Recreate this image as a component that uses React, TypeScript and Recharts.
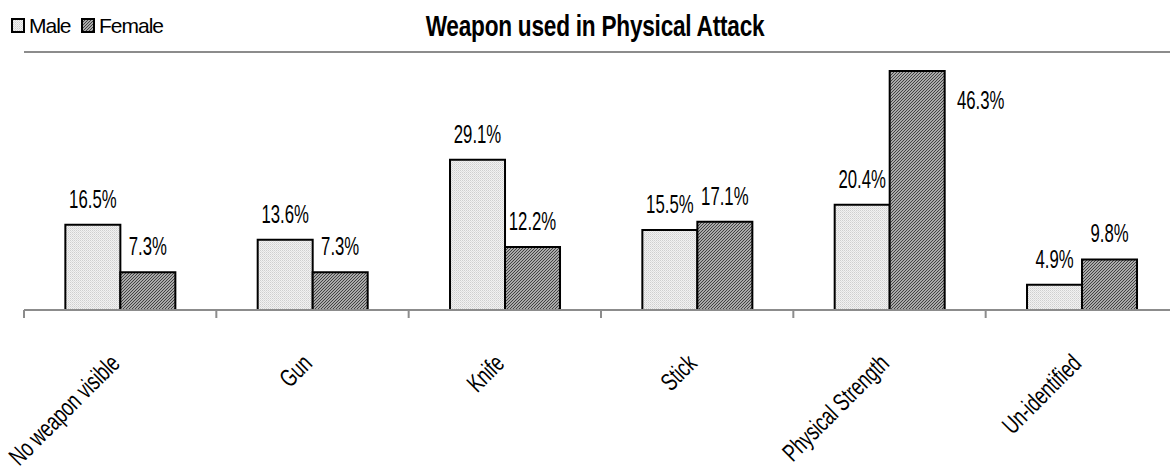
import React from 'react';
import { BarChart, Bar, XAxis, YAxis, ReferenceLine, Legend, LabelList } from 'recharts';

const categories = ['No weapon visible', 'Gun', 'Knife', 'Stick', 'Physical Strength', 'Un-identified'];
const maleValues = [16.5, 13.6, 29.1, 15.5, 20.4, 4.9];
const femaleValues = [7.3, 7.3, 12.2, 17.1, 46.3, 9.8];
const yDomain = [0, 50];

const data = categories.map((name, i) => ({
    name,
    Male: maleValues[i],
    Female: femaleValues[i]
}));

const FONT = '"Liberation Sans", Arial, sans-serif';
const SQUISH = 0.67;
const MARGIN = { top: 52, right: 2, bottom: 0, left: 24 };
const AXIS_GRAY = '#8c8c8c';

function BarValueLabel(props: any) {
    const x = Number(props.x);
    const y = Number(props.y);
    const width = Number(props.width);
    const value = Number(props.value);
    let tx = x + width / 2;
    let ty = y - 17;
    // no room above the tallest bar: put the label beside it
    if (ty - 18 < MARGIN.top) {
        tx = x + width + 36;
        ty = y + 38;
    }
    return (
        <text
            x={tx / SQUISH}
            y={ty}
            transform={`scale(${SQUISH},1)`}
            textAnchor="middle"
            fontSize={25}
            fontFamily={FONT}
            fill="#000"
        >
            {value.toFixed(1)}%
        </text>
    );
}

function CategoryTick(props: any) {
    const { x, y, payload, index } = props;
    const half = payload && payload.offset ? payload.offset : 96;
    return (
        <g>
            <line x1={x - half} y1={y} x2={x - half} y2={y + 8} stroke={AXIS_GRAY} strokeWidth={2} />
            {index === categories.length - 1 && (
                <line x1={x + half} y1={y} x2={x + half} y2={y + 8} stroke={AXIS_GRAY} strokeWidth={2} />
            )}
            <g transform={`translate(${x + 1},${y + 55}) rotate(-45)`}>
                <text
                    x={0}
                    y={0}
                    transform="scale(0.71,1)"
                    textAnchor="end"
                    fontSize={25}
                    fontFamily={FONT}
                    fill="#000"
                >
                    {payload.value}
                </text>
            </g>
        </g>
    );
}

function LegendBoxes() {
    const items = [
        { label: 'Male', fill: 'url(#maleFill)', left: 11 },
        { label: 'Female', fill: 'url(#femaleFill)', left: 81 }
    ];
    return (
        <div style={{ position: 'relative', width: 180, height: 24 }}>
            {items.map(item => (
                <div
                    key={item.label}
                    style={{ position: 'absolute', left: item.left, top: 0, display: 'flex', alignItems: 'center' }}
                >
                    <svg width={15} height={16} style={{ display: 'block' }}>
                        <rect x={1} y={1} width={12} height={13} fill={item.fill} stroke="#000" strokeWidth={2} />
                    </svg>
                    <span
                        style={{
                            fontFamily: FONT,
                            fontSize: 21,
                            letterSpacing: -1,
                            color: '#000',
                            marginLeft: 3,
                            lineHeight: '24px'
                        }}
                    >
                        {item.label}
                    </span>
                </div>
            ))}
        </div>
    );
}

export default function App() {
    return (
        <div
            style={{
                position: 'fixed',
                left: 0,
                top: 0,
                width: 1170,
                height: 470,
                overflow: 'hidden',
                background: '#fff'
            }}
        >
            <div
                style={{
                    position: 'absolute',
                    left: 595,
                    top: 12,
                    transform: 'translateX(-50%) scaleX(0.78)',
                    whiteSpace: 'nowrap',
                    fontFamily: FONT,
                    fontWeight: 'bold',
                    fontSize: 29,
                    lineHeight: '29px',
                    letterSpacing: -0.3,
                    color: '#000'
                }}
            >
                Weapon used in Physical Attack
            </div>
            <BarChart
                width={1180}
                height={470}
                data={data}
                margin={MARGIN}
                barCategoryGap="21.5%"
                barGap={0}
            >
                <defs>
                    <pattern id="maleFill" patternUnits="userSpaceOnUse" width={2} height={2}>
                        <rect width={2} height={2} fill="#f2f2f2" />
                        <rect width={1} height={1} fill="#cfcfcf" />
                        <rect x={1} y={1} width={1} height={1} fill="#dedede" />
                    </pattern>
                    <pattern id="femaleFill" patternUnits="userSpaceOnUse" width={3} height={3}>
                        <rect width={3} height={3} fill="#d6d6d6" />
                        <path d="M0,3 L3,0 M-1,1 L1,-1 M2,4 L4,2" stroke="#3a3a3a" strokeWidth={1.1} />
                    </pattern>
                </defs>
                <XAxis
                    dataKey="name"
                    height={160}
                    interval={0}
                    tickLine={false}
                    tickSize={0}
                    tickMargin={0}
                    axisLine={{ stroke: AXIS_GRAY, strokeWidth: 2 }}
                    tick={<CategoryTick />}
                />
                <YAxis
                    domain={yDomain}
                    width={0}
                    tick={false}
                    tickLine={false}
                    axisLine={{ stroke: AXIS_GRAY, strokeWidth: 2 }}
                />
                <ReferenceLine y={yDomain[1]} stroke={AXIS_GRAY} strokeWidth={2} />
                <Legend
                    layout="vertical"
                    align="center"
                    verticalAlign="middle"
                    wrapperStyle={{ left: 0, top: 14, width: 200 }}
                    content={() => <LegendBoxes />}
                />
                <Bar dataKey="Male" fill="url(#maleFill)" stroke="#000" strokeWidth={2} isAnimationActive={false}>
                    <LabelList dataKey="Male" content={<BarValueLabel />} />
                </Bar>
                <Bar dataKey="Female" fill="url(#femaleFill)" stroke="#000" strokeWidth={2} isAnimationActive={false}>
                    <LabelList dataKey="Female" content={<BarValueLabel />} />
                </Bar>
            </BarChart>
        </div>
    );
}
